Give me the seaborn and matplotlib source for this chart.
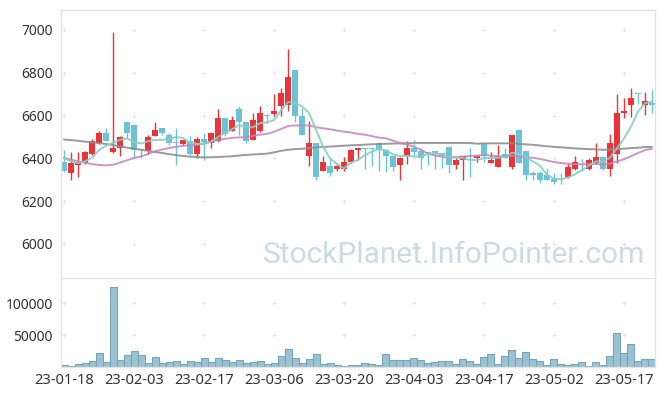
import numpy as np
import pandas as pd
import seaborn as sns
import matplotlib.pyplot as plt

# trading days (KRX holidays removed)
days = pd.bdate_range('2023-01-18', '2023-05-23', freq='C',
                      holidays=['2023-01-23', '2023-01-24', '2023-03-01', '2023-05-01', '2023-05-05'])

opens = [6381, 6331, 6369, 6378, 6420, 6472, 6520, 6428, 6448, 6570,
         6555, 6441, 6436, 6506, 6542, 6511, 6475, 6469, 6481, 6420,
         6491, 6472, 6480, 6589, 6530, 6631, 6570, 6488, 6530, 6602,
         6608, 6644, 6648, 6811, 6600, 6409, 6473, 6339, 6363, 6350,
         6350, 6381, 6438, 6448, 6448, 6472, 6441, 6412, 6367, 6412,
         6448, 6433, 6427, 6433, 6425, 6452, 6367, 6394, 6383, 6402,
         6472, 6378, 6358, 6420, 6358, 6534, 6433, 6331, 6331, 6323,
         6303, 6308, 6311, 6350, 6392, 6350, 6378, 6405, 6350, 6420,
         6612, 6648, 6705, 6648, 6659]
highs = [6438, 6428, 6428, 6434, 6491, 6530, 6544, 6992, 6506, 6570,
         6561, 6441, 6511, 6572, 6542, 6519, 6542, 6484, 6503, 6500,
         6519, 6523, 6631, 6589, 6600, 6644, 6570, 6612, 6644, 6608,
         6702, 6727, 6912, 6811, 6636, 6575, 6473, 6412, 6402, 6380,
         6405, 6445, 6450, 6450, 6450, 6477, 6441, 6412, 6406, 6480,
         6488, 6448, 6428, 6433, 6425, 6452, 6402, 6411, 6448, 6414,
         6472, 6428, 6464, 6448, 6511, 6534, 6433, 6339, 6339, 6355,
         6331, 6331, 6378, 6409, 6398, 6402, 6472, 6405, 6514, 6702,
         6683, 6730, 6706, 6709, 6719]
lows = [6335, 6300, 6312, 6373, 6414, 6467, 6480, 6425, 6413, 6495,
        6402, 6400, 6420, 6503, 6511, 6464, 6370, 6461, 6417, 6402,
        6394, 6448, 6478, 6503, 6527, 6511, 6472, 6488, 6525, 6563,
        6597, 6597, 6623, 6570, 6508, 6365, 6300, 6339, 6316, 6339,
        6339, 6378, 6394, 6352, 6362, 6339, 6336, 6342, 6300, 6373,
        6417, 6352, 6370, 6352, 6355, 6331, 6352, 6300, 6311, 6381,
        6381, 6378, 6358, 6400, 6352, 6378, 6300, 6300, 6284, 6297,
        6280, 6280, 6308, 6347, 6339, 6347, 6373, 6347, 6316, 6378,
        6589, 6592, 6652, 6602, 6612]
closes = [6339, 6378, 6381, 6431, 6483, 6520, 6480, 6448, 6500, 6517,
          6441, 6438, 6502, 6534, 6517, 6470, 6472, 6484, 6420, 6492,
          6477, 6519, 6589, 6514, 6581, 6570, 6480, 6581, 6612, 6597,
          6623, 6703, 6781, 6597, 6508, 6473, 6311, 6381, 6331, 6363,
          6381, 6441, 6448, 6445, 6445, 6438, 6409, 6358, 6402, 6448,
          6428, 6402, 6425, 6420, 6412, 6367, 6394, 6409, 6381, 6412,
          6412, 6394, 6412, 6402, 6511, 6378, 6320, 6320, 6300, 6297,
          6289, 6306, 6359, 6381, 6390, 6394, 6405, 6352, 6472, 6612,
          6623, 6683, 6702, 6670, 6648]
volume = [3100, 1600, 4700, 5700, 9400, 21900, 7800, 126600, 10900, 18800,
          25000, 18800, 5700, 15600, 5700, 7800, 9400, 4700, 9400, 7800,
          14100, 7800, 14100, 10900, 7800, 10900, 5700, 7800, 9400, 4700,
          5700, 17200, 28100, 14100, 5700, 12500, 20300, 4700, 6300, 3100,
          1600, 3100, 3100, 6300, 4700, 3100, 20300, 10900, 10900, 10900,
          14100, 10900, 6300, 7800, 9400, 9400, 4700, 12500, 9400, 4700,
          15600, 20300, 4700, 17200, 26600, 14100, 23400, 12500, 9400, 3100,
          12500, 4700, 3100, 4700, 7800, 1600, 7800, 3100, 17200, 53100,
          21900, 35900, 9400, 12500, 12500]

# closes before the window (for the 5-day average) and the start of the
# longer averages, which depend on data before the window
prior_closes = [6458, 6421, 6391, 6401]
ma20_head = [6402, 6394, 6386, 6380, 6373, 6369, 6367, 6370, 6380, 6391,
             6402, 6409, 6420, 6433, 6441, 6448, 6454, 6458, 6461]
ma60_head = [6488, 6485, 6482, 6478, 6475, 6471, 6467, 6462, 6456, 6450,
             6445, 6440, 6435, 6430, 6425, 6420, 6415, 6411, 6408, 6406,
             6405, 6405, 6406, 6408, 6410, 6413, 6416, 6418, 6420, 6422,
             6428, 6435, 6440, 6443, 6445, 6448, 6451, 6453, 6455, 6457,
             6459, 6461, 6462, 6464, 6466, 6467, 6468, 6469, 6470, 6471,
             6472, 6472, 6472, 6472, 6472, 6472, 6472, 6472, 6472]

df = pd.DataFrame({'open': opens, 'high': highs, 'low': lows, 'close': closes, 'volume': volume})
df['x'] = np.arange(len(df))
c = df['close']
df['ma5'] = pd.concat([pd.Series(prior_closes), c], ignore_index=True).rolling(5).mean().iloc[4:].values
df['ma20'] = c.rolling(20).mean()
df.loc[:18, 'ma20'] = ma20_head
df['ma60'] = c.rolling(60).mean()
df.loc[:58, 'ma60'] = ma60_head

RED = '#ec3338'
BLUE = '#6bc3d8'

sns.set_style("white")
plt.rcParams['font.family'] = ['Noto Sans', 'DejaVu Sans']

fig = plt.figure(figsize=(6.65, 3.96), dpi=100)
ax = fig.add_axes([61/665, 1-278/396, 594/665, 268/396])
axv = fig.add_axes([61/665, 1-367/396, 594/665, 89/396])

# candles
cols = np.where(df['close'] > df['open'], RED, BLUE)
ax.vlines(df['x'], df['low'], df['high'], colors=cols, lw=1, zorder=2)
body = np.maximum((df['close'] - df['open']).abs(), 4)
ax.bar(df['x'], body, bottom=np.minimum(df['open'], df['close']), width=0.72,
       color=cols, linewidth=0, zorder=2)

sns.lineplot(x='x', y='ma60', data=df, ax=ax, color='#8f8f8f', lw=1.4, alpha=0.9, zorder=3)
sns.lineplot(x='x', y='ma20', data=df, ax=ax, color='#c683bf', lw=1.4, alpha=0.85, zorder=3)
sns.lineplot(x='x', y='ma5', data=df, ax=ax, color='#86cfc3', lw=1.4, alpha=0.9, zorder=3)

# volume
sns.barplot(x='x', y='volume', data=df, ax=axv, color='#9bc2d3', edgecolor='#77a5ba',
            linewidth=0.8, saturation=1, width=1.0, native_scale=True, zorder=2)

tick_pos = list(range(0, len(df), 10))
tick_lab = [days[i].strftime('%y-%m-%d') for i in tick_pos]

for a in (ax, axv):
    a.set_xlim(-0.43, len(df) - 0.57)
    a.set_xlabel('')
    a.set_ylabel('')
    for s in a.spines.values():
        s.set_color('#e3e3e3')
        s.set_linewidth(1)
    a.tick_params(length=0, labelsize=10, colors='#333333', pad=6)

ax.set_ylim(5841, 7093)
ax.set_yticks([6000, 6200, 6400, 6600, 6800, 7000])
ax.set_xticks(tick_pos)
ax.set_xticklabels([])
ax.spines['bottom'].set_visible(False)

axv.set_ylim(0, 140000)
axv.set_yticks([50000, 100000])
axv.set_xticks(tick_pos)
axv.set_xticklabels(tick_lab)
axv.tick_params(axis='x', pad=4, labelsize=10.5)

# grid crosses
gx, gy = np.meshgrid(tick_pos, [6000, 6200, 6400, 6600, 6800, 7000])
ax.scatter(gx.ravel(), gy.ravel(), marker='+', s=12, color='#e6e6e6', lw=0.7, zorder=1)
gx, gy = np.meshgrid(tick_pos, [50000, 100000])
axv.scatter(gx.ravel(), gy.ravel(), marker='+', s=12, color='#e6e6e6', lw=0.7, zorder=1)

ax.text(0.662, 0.085, 'StockPlanet.InfoPointer.com', transform=ax.transAxes,
        ha='center', va='center', fontsize=21.5, color='#c9dce6', family='Roboto', zorder=0)

fig.savefig('out.png', dpi=100)
